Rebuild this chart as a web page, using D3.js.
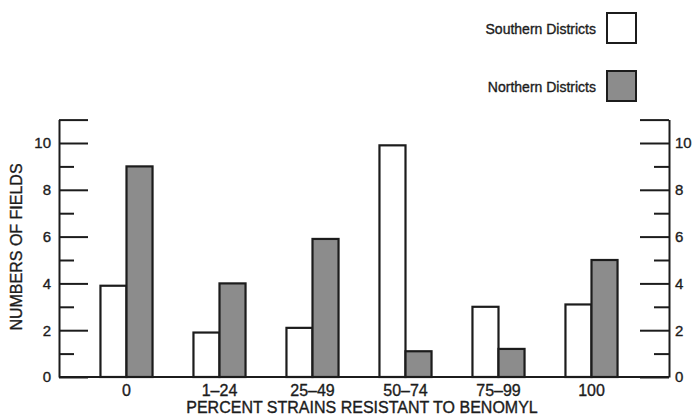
<!DOCTYPE html>
<html>
<head>
<meta charset="utf-8">
<script src="https://cdn.jsdelivr.net/npm/d3@7"></script>
<style>
    body { margin: 0; background: #fff; }
    text { font-family: "Liberation Sans", Arial, Helvetica, sans-serif; fill: #1c1c1c; stroke: #1c1c1c; stroke-width: 0.35px; }
</style>
</head>
<body>
<svg id="canvas" width="693" height="417"></svg>
<script>
// values
let categories = ['0', '1\u201324', '25\u201349', '50\u201374', '75\u201399', '100'];
let southern = [3.9, 1.9, 2.1, 9.9, 3.0, 3.1];
let northern = [9.0, 4.0, 5.9, 1.1, 1.2, 5.0];
let seriesNames = ['Southern Districts', 'Northern Districts'];
let seriesColors = ['#ffffff', '#8c8c8c'];
let yTicks = [0, 1, 2, 3, 4, 5, 6, 7, 8, 9, 10, 11];

let canvas = d3.select('#canvas');

let leftX = 59;
let rightX = 669;
let baseY = 377;

let x = d3.scaleBand()
    .domain(categories)
    .range([80, 638])
    .paddingInner(0.44)
    .paddingOuter(0.22);

let xSeries = d3.scaleBand()
    .domain(seriesNames)
    .range([0, x.bandwidth()]);

let y = d3.scaleLinear()
    .domain([0, 11])
    .range([baseY, 119.6]);

let ink = '#1c1c1c';

// bars
let rows = categories.map((c, i) => {
    return { cat: c, values: [southern[i], northern[i]] };
});

canvas.append('g')
    .selectAll('g')
    .data(rows)
    .enter()
    .append('g')
    .attr('transform', (d) => 'translate(' + x(d.cat) + ',0)')
    .selectAll('rect')
    .data((d) => d.values.map((v, j) => ({ name: seriesNames[j], value: v, color: seriesColors[j] })))
    .enter()
    .append('rect')
    .attr('x', (d) => xSeries(d.name))
    .attr('y', (d) => y(d.value))
    .attr('width', xSeries.bandwidth())
    .attr('height', (d) => y(0) - y(d.value))
    .attr('fill', (d) => d.color)
    .attr('stroke', ink)
    .attr('stroke-width', 2.2);

// axes: ticks point inward, long on even numbers
let styleAxis = (g, inward) => {
    g.select('.domain').attr('stroke', ink).attr('stroke-width', 2);
    g.selectAll('.tick line')
        .attr('stroke', ink)
        .attr('stroke-width', 2)
        .attr('x2', (d) => (d % 2 === 0 || d === 11) ? inward * 29 : inward * 15);
    g.selectAll('.tick text').style('font-size', '15px').attr('fill', ink);
};

let fmt = (d) => (d % 2 === 0 && d <= 10) ? d : '';

canvas.append('g')
    .attr('transform', 'translate(' + leftX + ',0)')
    .call(d3.axisLeft(y).tickValues(yTicks).tickFormat(fmt).tickSize(-29).tickSizeOuter(0).tickPadding(8))
    .call((g) => styleAxis(g, 1));

canvas.append('g')
    .attr('transform', 'translate(' + rightX + ',0)')
    .call(d3.axisRight(y).tickValues(yTicks).tickFormat(fmt).tickSize(-29).tickSizeOuter(0).tickPadding(6))
    .call((g) => styleAxis(g, -1));

// baseline
canvas.append('line')
    .attr('x1', leftX)
    .attr('x2', rightX)
    .attr('y1', y(0))
    .attr('y2', y(0))
    .attr('stroke', ink)
    .attr('stroke-width', 2);

// category labels
let xAxis = canvas.append('g')
    .attr('transform', 'translate(0,' + baseY + ')')
    .call(d3.axisBottom(x).tickSize(0).tickPadding(6));
xAxis.select('.domain').remove();
xAxis.selectAll('text').style('font-size', '16px').attr('fill', ink).attr('dy', 0).attr('y', 19);

// titles
canvas.append('text')
    .attr('x', 362)
    .attr('y', 413)
    .attr('text-anchor', 'middle')
    .style('font-size', '16px')
    .text('PERCENT STRAINS RESISTANT TO BENOMYL');

canvas.append('text')
    .attr('transform', 'translate(22,247) rotate(-90)')
    .attr('text-anchor', 'middle')
    .style('font-size', '16px')
    .text('NUMBERS OF FIELDS');

// legend
let legend = canvas.append('g')
    .selectAll('g')
    .data(seriesNames)
    .enter()
    .append('g')
    .attr('transform', (d, i) => 'translate(0,' + (13 + i * 58) + ')');

legend.append('rect')
    .attr('x', 607)
    .attr('y', 0)
    .attr('width', 29)
    .attr('height', 30)
    .attr('fill', (d, i) => seriesColors[i])
    .attr('stroke', ink)
    .attr('stroke-width', 2);

legend.append('text')
    .attr('x', 596)
    .attr('y', 21)
    .attr('text-anchor', 'end')
    .style('font-size', '14px')
    .text((d) => d);
</script>
</body>
</html>
